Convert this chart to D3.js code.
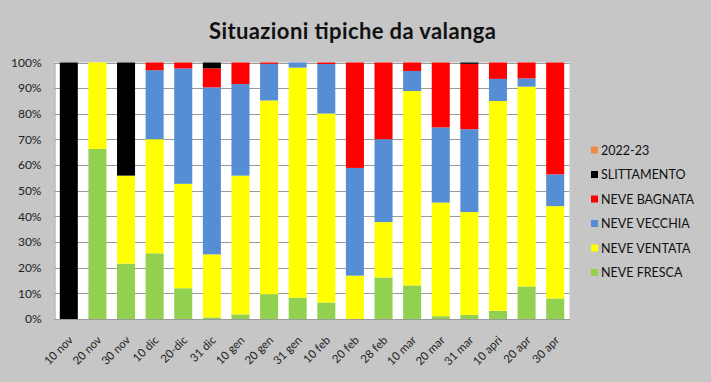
<!DOCTYPE html>
<html>
<head>
<meta charset="utf-8">
<script src="https://cdn.jsdelivr.net/npm/d3@7"></script>
<style>
  html, body { margin: 0; padding: 0; background: #c6c6c6; }
  svg { display: block; }
  text { font-family: Lato, "Open Sans", sans-serif; }
</style>
</head>
<body>
<svg id="chart" width="711" height="382"></svg>
<script>
const categories = ["10 nov","20 nov","30 nov","10 dic","20-dic","31 dic","10 gen","20 gen","31 gen","10 feb","20 feb","28 feb","10 mar","20 mar","31 mar","10 apri","20 apr","30 apr"];
const neveFresca   = [0, 66.3, 21.6, 25.6, 12.0, 0.6, 1.8, 9.7, 8.3, 6.4, 0, 16.2, 13.1, 1.1, 1.6, 3.2, 12.7, 8.0];
const neveVentata  = [0, 33.7, 34.3, 44.5, 40.7, 24.6, 54.1, 75.5, 89.7, 73.7, 16.9, 21.6, 75.8, 44.3, 40.1, 81.8, 77.9, 36.0];
const neveVecchia  = [0, 0, 0, 26.9, 45.0, 65.1, 35.7, 14.3, 2.0, 19.3, 42.0, 32.3, 7.8, 29.3, 32.3, 8.6, 3.2, 12.4];
const neveBagnata  = [0, 0, 0, 3.0, 2.3, 7.4, 8.4, 0.5, 0, 0.6, 41.1, 29.9, 3.3, 25.3, 25.5, 6.4, 6.2, 43.6];
const slittamento  = [100, 0, 44.1, 0, 0, 2.3, 0, 0, 0, 0, 0, 0, 0, 0, 0.5, 0, 0, 0];
const season2223   = [0, 0, 0, 0, 0, 0, 0, 0, 0, 0, 0, 0, 0, 0, 0, 0, 0, 0];
const yTicks = [0, 10, 20, 30, 40, 50, 60, 70, 80, 90, 100];
const title = "Situazioni tipiche da valanga";

const seriesDefs = [
  { key: "NEVE FRESCA", values: neveFresca, color: "#92d050" },
  { key: "NEVE VENTATA", values: neveVentata, color: "#ffff00" },
  { key: "NEVE VECCHIA", values: neveVecchia, color: "#558ed5" },
  { key: "NEVE BAGNATA", values: neveBagnata, color: "#ff0000" },
  { key: "SLITTAMENTO", values: slittamento, color: "#000000" },
  { key: "2022-23", values: season2223, color: "#f08a3c" }
];

const rows = categories.map((c, i) => {
  const r = { cat: c };
  seriesDefs.forEach(s => r[s.key] = s.values[i]);
  return r;
});

const svg = d3.select("#chart");
const m = { left: 54.5, right: 569.5, top: 62.5, bottom: 319 };

const x = d3.scaleBand().domain(categories).range([m.left, m.right]).paddingInner(0.37).paddingOuter(0.185);
const y = d3.scaleLinear().domain([0, 100]).range([m.bottom, m.top]);

// plot background
svg.append("rect").attr("x", m.left).attr("y", m.top)
  .attr("width", m.right - m.left).attr("height", m.bottom - m.top)
  .attr("fill", "#ffffff");

// gridlines
svg.append("g").selectAll("line").data(yTicks).join("line")
  .attr("x1", m.left).attr("x2", m.right)
  .attr("y1", d => Math.round(y(d)) + 0.5).attr("y2", d => Math.round(y(d)) + 0.5)
  .attr("stroke", "#9a9a9a").attr("stroke-width", 1);

// bars
const stack = d3.stack().keys(seriesDefs.map(s => s.key));
const stacked = stack(rows);
svg.append("g").selectAll("g").data(stacked).join("g")
  .attr("fill", (d, i) => seriesDefs[i].color)
  .selectAll("rect").data(d => d).join("rect")
  .attr("x", d => x(d.data.cat))
  .attr("width", x.bandwidth())
  .attr("y", d => y(d[1]))
  .attr("height", d => Math.max(0, y(d[0]) - y(d[1])));

// y axis
const yAxis = d3.axisLeft(y).tickValues(yTicks).tickFormat(d => d + "%").tickSize(0).tickPadding(13);
const yg = svg.append("g").attr("transform", `translate(${m.left},0)`).call(yAxis);
yg.select(".domain").attr("stroke", "#9a9a9a");
yg.selectAll("text").attr("font-size", 12).attr("fill", "#222").style("font-family", "Lato, sans-serif");

// x axis
const xAxis = d3.axisBottom(x).tickSize(0).tickPadding(0);
const xg = svg.append("g").attr("transform", `translate(0,${m.bottom})`).call(xAxis);
xg.select(".domain").attr("stroke", "#9a9a9a");
xg.selectAll("text")
  .attr("font-size", 11.5).attr("fill", "#222").style("font-family", "Lato, sans-serif")
  .attr("text-anchor", "end")
  .attr("dy", "0.35em")
  .attr("transform", "translate(2,19) rotate(-45)");

// title
svg.append("text").attr("x", 352.5).attr("y", 38.5).attr("text-anchor", "middle")
  .attr("font-size", 22).attr("font-weight", "bold").attr("fill", "#111")
  .attr("textLength", 287).attr("lengthAdjust", "spacing").text(title);

// legend (top to bottom: reverse order)
const legendItems = seriesDefs.slice().reverse();
const lg = svg.append("g").selectAll("g").data(legendItems).join("g")
  .attr("transform", (d, i) => `translate(591, ${150.5 + i * 24.5})`);
lg.append("rect").attr("x", 0).attr("y", -4).attr("width", 7).attr("height", 7).attr("fill", d => d.color);
lg.append("text").attr("x", 10).attr("y", 0).attr("dy", "0.35em")
  .attr("font-size", 12.5).attr("fill", "#111").text(d => d.key);
</script>
</body>
</html>
